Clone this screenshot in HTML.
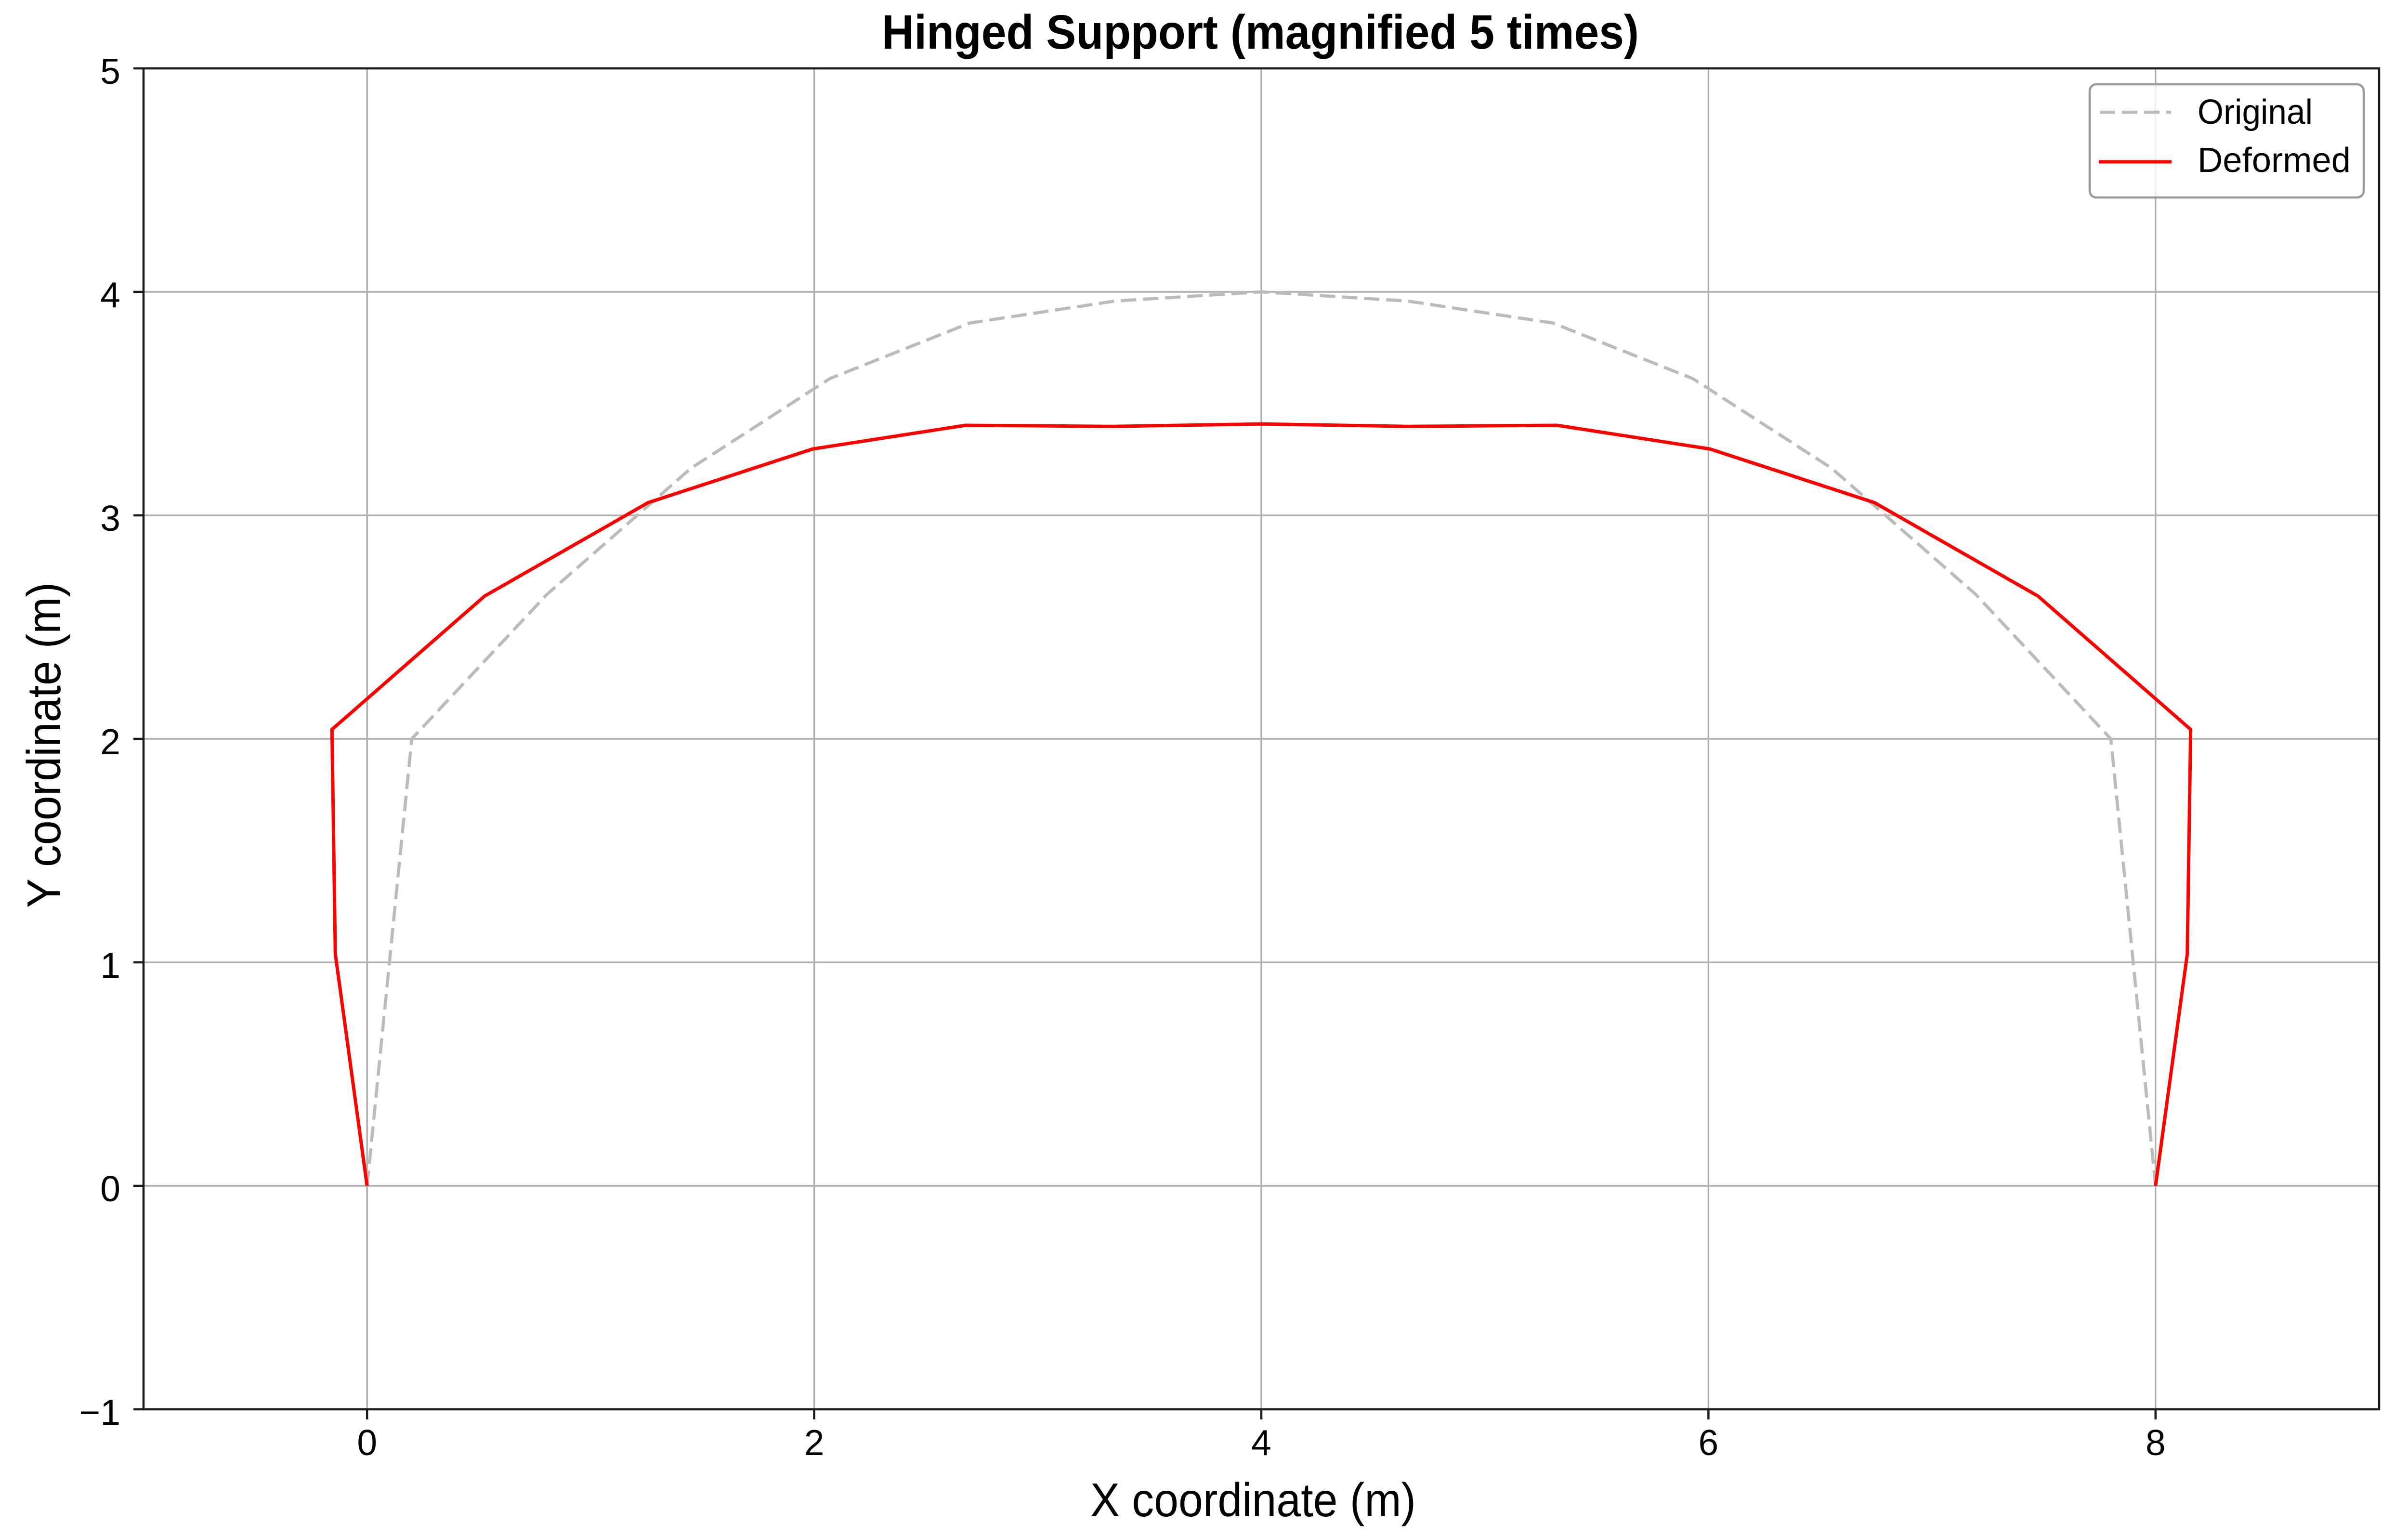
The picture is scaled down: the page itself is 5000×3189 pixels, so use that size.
<!DOCTYPE html>
<html>
<head>
<meta charset="utf-8">
<style>
  html, body { margin:0; padding:0; background:#ffffff; }
  svg { display:block; }
  text { font-family: "Liberation Sans", "DejaVu Sans", sans-serif; fill:#000; }
</style>
</head>
<body>
<svg width="5000" height="3189" viewBox="0 0 5000 3189" xmlns="http://www.w3.org/2000/svg">
  <rect x="0" y="0" width="5000" height="3189" fill="#ffffff"/>

  <!-- grid -->
  <g stroke="#b0b0b0" stroke-width="3.4" fill="none">
    <line x1="762.2" y1="142" x2="762.2" y2="2926"/>
    <line x1="1690.6" y1="142" x2="1690.6" y2="2926"/>
    <line x1="2619" y1="142" x2="2619" y2="2926"/>
    <line x1="3547.4" y1="142" x2="3547.4" y2="2926"/>
    <line x1="4475.8" y1="142" x2="4475.8" y2="2926"/>
    <line x1="298" y1="2462" x2="4940" y2="2462"/>
    <line x1="298" y1="1998" x2="4940" y2="1998"/>
    <line x1="298" y1="1534" x2="4940" y2="1534"/>
    <line x1="298" y1="1070" x2="4940" y2="1070"/>
    <line x1="298" y1="606" x2="4940" y2="606"/>
  </g>

  <!-- Original (gray dashed) -->
  <polyline fill="none" stroke="#bbbbbb" stroke-width="6.5" stroke-dasharray="32,14" stroke-linejoin="round"
    points="762.2,2462 808.6,1998 855,1534 1135.9,1233.8 1434.8,972.1 1723.1,786 2014.2,670.5 2315.4,625 2619,606 2922.6,625 3223.8,670.5 3514.9,786 3803.2,972.1 4102.1,1233.8 4383,1534 4429.4,1998 4475.8,2462"/>

  <!-- Deformed (red) -->
  <polyline fill="none" stroke="#ff0000" stroke-width="7" stroke-linejoin="round"
    points="762.2,2462 696.3,1980.8 689.3,1514.5 1006.4,1237.5 1345.7,1043.6 1687.4,932.2 2004.9,883 2312.2,885.3 2619,880.2 2925.8,885.3 3233.1,883 3550.6,932.2 3892.3,1043.6 4231.6,1237.5 4548.7,1514.5 4541.7,1980.8 4475.8,2462"/>

  <!-- spines -->
  <rect x="298" y="142" width="4642" height="2784" fill="none" stroke="#1a1a1a" stroke-width="4.5"/>

  <!-- ticks -->
  <g stroke="#1a1a1a" stroke-width="4.5">
    <line x1="762.2" y1="2926" x2="762.2" y2="2947"/>
    <line x1="1690.6" y1="2926" x2="1690.6" y2="2947"/>
    <line x1="2619" y1="2926" x2="2619" y2="2947"/>
    <line x1="3547.4" y1="2926" x2="3547.4" y2="2947"/>
    <line x1="4475.8" y1="2926" x2="4475.8" y2="2947"/>
    <line x1="277" y1="2926" x2="298" y2="2926"/>
    <line x1="277" y1="2462" x2="298" y2="2462"/>
    <line x1="277" y1="1998" x2="298" y2="1998"/>
    <line x1="277" y1="1534" x2="298" y2="1534"/>
    <line x1="277" y1="1070" x2="298" y2="1070"/>
    <line x1="277" y1="606" x2="298" y2="606"/>
    <line x1="277" y1="142" x2="298" y2="142"/>
  </g>

  <!-- x tick labels -->
  <g font-size="75" text-anchor="middle">
    <text x="762.2" y="3021">0</text>
    <text x="1690.6" y="3021">2</text>
    <text x="2619" y="3021">4</text>
    <text x="3547.4" y="3021">6</text>
    <text x="4475.8" y="3021">8</text>
  </g>

  <!-- y tick labels -->
  <g font-size="75" text-anchor="end">
    <text x="250" y="2958">−1</text>
    <text x="250" y="2494">0</text>
    <text x="250" y="2030">1</text>
    <text x="250" y="1566">2</text>
    <text x="250" y="1102">3</text>
    <text x="250" y="638">4</text>
    <text x="250" y="174">5</text>
  </g>

  <!-- axis labels -->
  <text x="2602" y="3148" font-size="98" text-anchor="middle" textLength="676" lengthAdjust="spacingAndGlyphs">X coordinate (m)</text>
  <text x="0" y="0" font-size="98" text-anchor="middle" textLength="676" lengthAdjust="spacingAndGlyphs" transform="translate(125,1547) rotate(-90)">Y coordinate (m)</text>

  <!-- title -->
  <text x="2617" y="101" font-size="100" font-weight="bold" text-anchor="middle" textLength="1572" lengthAdjust="spacingAndGlyphs">Hinged Support (magnified 5 times)</text>

  <!-- legend -->
  <rect x="4339" y="175" width="569" height="235" rx="14" ry="14" fill="#ffffff" fill-opacity="0.8" stroke="#999999" stroke-width="4.5"/>
  <line x1="4360" y1="233" x2="4508" y2="233" stroke="#bbbbbb" stroke-width="6.5" stroke-dasharray="32,14"/>
  <line x1="4358" y1="336" x2="4509" y2="336" stroke="#ff0000" stroke-width="7"/>
  <text x="4563" y="257" font-size="72" textLength="239" lengthAdjust="spacingAndGlyphs">Original</text>
  <text x="4563" y="357" font-size="72" textLength="318" lengthAdjust="spacingAndGlyphs">Deformed</text>
</svg>
</body>
</html>
